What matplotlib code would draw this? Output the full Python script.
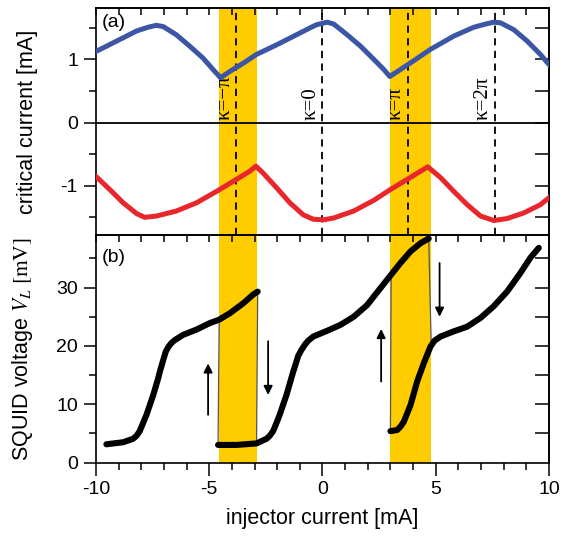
import matplotlib
matplotlib.use("Agg")
import matplotlib.pyplot as plt
import numpy as np

plt.rcParams['font.family'] = ['Liberation Sans', 'DejaVu Sans']
plt.rcParams['mathtext.fontset'] = 'stix'
plt.rcParams['axes.unicode_minus'] = False

# panel (a): critical current vs injector current
blue_x = [-9.98, -9.09, -8.21, -7.70, -7.33, -7.03, -6.45, -5.86, -5.27, -4.83, -4.50,
          -4.09, -3.50, -2.91, -2.03, -1.15, -0.55, -0.26, 0.21, 0.50, 1.09, 1.68,
          2.27, 2.71, 2.97, 3.44, 4.03, 4.77, 5.80, 6.68, 7.20, 7.56, 7.86,
          8.45, 9.04, 9.62, 10.0]
blue_y = [1.13, 1.29, 1.45, 1.51, 1.54, 1.52, 1.39, 1.21, 1.02, 0.84, 0.71,
          0.81, 0.94, 1.08, 1.23, 1.39, 1.50, 1.55, 1.59, 1.56, 1.39, 1.21,
          1.00, 0.84, 0.73, 0.84, 0.98, 1.16, 1.37, 1.51, 1.56, 1.59, 1.58,
          1.47, 1.29, 1.08, 0.92]
red_x = [-9.98, -9.39, -8.80, -8.21, -7.85, -7.33, -6.45, -5.56, -4.68, -3.80,
         -3.21, -2.94, -2.62, -2.03, -1.44, -0.85, -0.41, 0.05, 0.50, 1.38,
         2.27, 3.00, 3.74, 4.33, 4.65, 5.21, 5.80, 6.39, 6.98, 7.56,
         8.15, 8.89, 9.62, 10.0]
red_y = [-0.86, -1.06, -1.27, -1.44, -1.50, -1.48, -1.40, -1.27, -1.09, -0.90,
         -0.77, -0.69, -0.80, -1.03, -1.27, -1.46, -1.53, -1.54, -1.51, -1.40,
         -1.23, -1.06, -0.90, -0.77, -0.70, -0.87, -1.09, -1.30, -1.48, -1.55,
         -1.52, -1.43, -1.30, -1.19]

# panel (b): SQUID voltage, three measured branches
v1_x = [-9.54, -8.80, -8.36, -8.21, -8.07, -7.92, -7.77, -7.47, -7.25, -7.18, -7.03,
        -6.92, -6.81, -6.67, -6.52, -6.15, -5.56, -4.98, -4.56, -4.09, -3.50, -3.06, -2.86]
v1_y = [3.15, 3.5, 4.1, 4.6, 5.4, 6.8, 8.2, 11.6, 14.5, 15.6, 17.6,
        19.0, 19.8, 20.5, 21.0, 21.9, 22.8, 23.9, 24.5, 25.6, 27.3, 28.8, 29.3]
v2_x = [-4.61, -3.80, -2.91, -2.47, -2.33, -2.18, -2.03, -1.89, -1.59, -1.44, -1.29,
        -1.07, -0.93, -0.78, -0.63, -0.41, 0.15, 0.79, 1.38, 1.97, 2.56, 3.03,
        3.44, 3.89, 4.33, 4.69]
v2_y = [3.04, 3.04, 3.3, 4.1, 4.6, 5.4, 6.8, 8.2, 11.6, 13.6, 15.6,
        18.3, 19.3, 20.2, 20.9, 21.6, 22.5, 23.6, 25.0, 27.0, 29.9, 32.2,
        34.2, 36.2, 37.6, 38.4]
v3_x = [3.00, 3.30, 3.45, 3.59, 3.89, 4.18, 4.47, 4.77, 4.95, 5.21, 5.80, 6.39,
        6.98, 7.56, 8.15, 8.74, 9.18, 9.55]
v3_y = [5.4, 5.6, 6.2, 7.0, 9.9, 13.9, 17.0, 19.9, 20.9, 21.6, 22.5, 23.3,
        24.8, 26.8, 29.3, 32.5, 35.1, 36.8]

# switching jumps between branches: (x0, x1), (y0, y1)
jumps = [((-4.56, -4.61), (24.5, 3.04)),
         ((-2.86, -2.91), (29.3, 3.3)),
         ((3.03, 3.00), (32.2, 5.4)),
         ((4.69, 4.80), (38.4, 20.3))]

# hysteretic regions and phase markers
bands = [(-4.58, -2.88), (3.0, 4.77)]
kappa_x = [-3.80, 0.0, 3.78, 7.60]
kappa_labels = ['κ=−π', 'κ=0', 'κ=π', 'κ=2π']

# sweep direction arrows: x, y_start, y_end
arrows = [(-5.05, 8.2, 17.0), (-2.40, 20.8, 11.6), (2.59, 13.9, 22.9), (5.17, 34.2, 25.0)]

yellow = '#FFCC00'
fs_tick = 14
fs_label = 15.5

fig = plt.figure(figsize=(5.74, 5.38), dpi=100)
ax1 = fig.add_axes([0.1672, 0.5632, 0.7892, 0.4214])
ax2 = fig.add_axes([0.1672, 0.140, 0.7892, 0.4232])

for ax in (ax1, ax2):
    for lo, hi in bands:
        ax.axvspan(lo, hi, color=yellow, lw=0, zorder=0)
    ax.set_xlim(-10, 10)
    for s in ax.spines.values():
        s.set_linewidth(1.2)
    ax.tick_params(axis='both', which='both', top=False, right=False,
                   direction='out', width=1.1, labelsize=fs_tick)
    ax.tick_params(which='major', length=9, pad=4)
    ax.tick_params(which='minor', length=5)
    ax.set_xticks([-10, -5, 0, 5, 10])
    ax.set_xticks(np.arange(-10, 11, 1), minor=True)
    top = ax.secondary_xaxis('top')
    top.set_xticks(np.arange(-10, 11, 1))
    top.tick_params(direction='in', length=5, width=1.1, labeltop=False)
    top.spines['top'].set_linewidth(1.2)

# (a)
ax1.axhline(0, color='k', lw=1.3, zorder=1)
for xk, lab in zip(kappa_x, kappa_labels):
    ax1.axvline(xk, color='k', lw=1.3, ls=(0, (4, 3)), zorder=2)
    ax1.text(xk - 0.1, 0.04, lab, rotation=90, ha='right', va='bottom',
             fontsize=15, family=['Liberation Serif', 'DejaVu Serif'], zorder=3)
ax1.plot(blue_x, blue_y, color='#3C56A6', lw=3.6, solid_joinstyle='round', zorder=4)
ax1.plot(red_x, red_y, color='#E8262C', lw=3.6, solid_joinstyle='round', zorder=4)
ax1.set_ylim(-1.78, 1.81)
ax1.set_yticks([-1, 0, 1])
ax1.set_yticks([-1.5, -0.5, 0.5, 1.5], minor=True)
ax1.tick_params(axis='x', bottom=False, which='both', labelbottom=False)
ax1.set_ylabel('critical current [mA]', fontsize=fs_label)
ax1.yaxis.set_label_coords(-0.128, 0.5)
r1 = ax1.secondary_yaxis('right')
r1.set_yticks(np.arange(-1.5, 1.6, 0.5))
r1.tick_params(direction='in', length=10, width=1.1, labelright=False)
r1.spines['right'].set_linewidth(1.2)
ax1.text(0.013, 0.975, '(a)', transform=ax1.transAxes, ha='left', va='top', fontsize=fs_tick)

# (b)
for xs, ys in jumps:
    ax2.plot(xs, ys, color='#555555', lw=0.9, zorder=2)
for vx, vy in ((v1_x, v1_y), (v2_x, v2_y), (v3_x, v3_y)):
    ax2.plot(vx, vy, color='k', lw=4.4, solid_joinstyle='round',
             solid_capstyle='round', zorder=3)
for xa, y0, y1 in arrows:
    ax2.annotate('', xy=(xa, y1), xytext=(xa, y0),
                 arrowprops=dict(arrowstyle='-|>', color='k', lw=1.3,
                                 mutation_scale=13, shrinkA=0, shrinkB=0))
ax2.set_ylim(0, 39)
ax2.set_yticks([0, 10, 20, 30])
ax2.set_yticks([5, 15, 25, 35], minor=True)
ax2.set_ylabel(r'SQUID voltage $V_L\ [\mathrm{mV}]$', fontsize=fs_label)
ax2.yaxis.set_label_coords(-0.135, 0.5)
ax2.set_xlabel('injector current [mA]', fontsize=fs_label)
ax2.xaxis.set_label_coords(0.5, -0.20)
r2 = ax2.secondary_yaxis('right')
r2.set_yticks(np.arange(5, 40, 5))
r2.tick_params(direction='in', length=10, width=1.1, labelright=False)
r2.spines['right'].set_linewidth(1.2)
ax2.text(0.013, 0.94, '(b)', transform=ax2.transAxes, ha='left', va='top', fontsize=fs_tick)

fig.savefig('out.png', dpi=100)
